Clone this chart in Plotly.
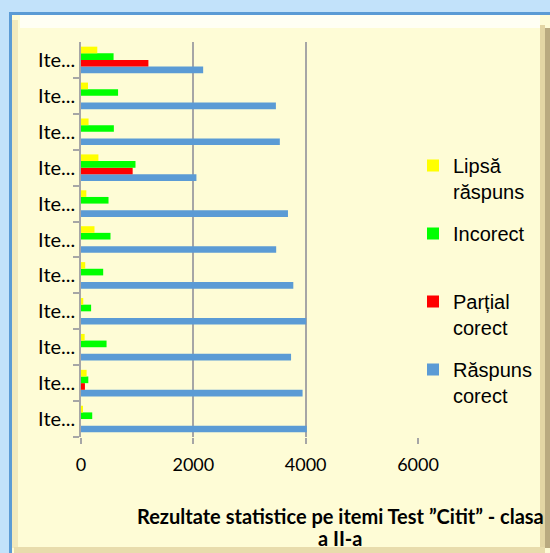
import plotly.graph_objects as go

# Data (top-to-bottom order as displayed)
items = ["Item 1", "Item 2", "Item 3", "Item 4", "Item 5", "Item 6",
         "Item 7", "Item 8", "Item 9", "Item 10", "Item 11"]
item_labels = ["Ite..."] * len(items)
lipsa_raspuns = [290, 125, 135, 310, 95, 240, 75, 40, 65, 100, 30]
incorect = [580, 660, 585, 970, 490, 525, 395, 180, 455, 130, 200]
partial_corect = [1200, 0, 0, 920, 0, 0, 0, 0, 0, 70, 0]
raspuns_corect = [2175, 3470, 3540, 2055, 3685, 3475, 3780, 4010, 3740, 3945, 4020]

series_names = ["Răspuns<br>corect", "Parțial<br>corect", "Incorect<br> ", "Lipsă<br>răspuns"]
series_values = [raspuns_corect, partial_corect, incorect, lipsa_raspuns]
series_colors = ["#5b9bd5", "#ff0000", "#00ff00", "#ffff00"]
legend_ranks = [4, 3, 2, 1]

title_lines = ["Rezultate statistice pe itemi Test ”Citit” - clasa", "a II-a"]

W, H = 550, 553

fig = go.Figure()
for i, (name, vals, col, rk) in enumerate(zip(series_names, series_values, series_colors, legend_ranks)):
    fig.add_trace(go.Bar(
        y=items, x=vals, name=name, orientation="h",
        marker=dict(color=col, line=dict(width=0)),
        legendgroup=f"g{i}",
        legendrank=rk,
    ))

def px_x(v):
    return v / W

def px_y(v):
    return 1 - v / H

shapes = [
    # blue frame
    dict(type="rect", xref="paper", yref="paper", x0=px_x(9), x1=px_x(560), y0=px_y(560), y1=px_y(12),
         fillcolor="#5b9bd5", line=dict(width=0), layer="below"),
    # cream panel
    dict(type="rect", xref="paper", yref="paper", x0=px_x(12), x1=px_x(550), y0=px_y(553), y1=px_y(15),
         fillcolor="#fefcd6", line=dict(width=0), layer="below"),
    # top light bevel
    dict(type="rect", xref="paper", yref="paper", x0=px_x(20), x1=px_x(540), y0=px_y(28), y1=px_y(15),
         fillcolor="#fffff4", line=dict(width=0), layer="below"),
    # left bevel
    dict(type="rect", xref="paper", yref="paper", x0=px_x(12), x1=px_x(18), y0=px_y(548), y1=px_y(20),
         fillcolor="#f1e9bd", line=dict(width=0), layer="below"),
    # right bevel
    dict(type="rect", xref="paper", yref="paper", x0=px_x(540), x1=px_x(545), y0=px_y(548), y1=px_y(25),
         fillcolor="#e3d6a4", line=dict(width=0), layer="below"),
    dict(type="rect", xref="paper", yref="paper", x0=px_x(545), x1=px_x(550), y0=px_y(548), y1=px_y(28),
         fillcolor="#b9aa80", line=dict(width=0), layer="below"),
    # bottom bevel
    dict(type="rect", xref="paper", yref="paper", x0=px_x(14), x1=px_x(545), y0=px_y(553), y1=px_y(547),
         fillcolor="#e8dcac", line=dict(width=0), layer="below"),
]

title_font = dict(family="Lato", size=20, color="#000000", weight="bold")

fig.update_layout(
    width=W, height=H,
    margin=dict(l=0, r=0, t=0, b=0, autoexpand=False),
    paper_bgcolor="#c2e2fa",
    plot_bgcolor="#ffffff",
    barmode="group",
    bargap=0.26,
    bargroupgap=0,
    shapes=shapes,
    font=dict(family="Lato", color="#000000"),
    showlegend=True,
    legend=dict(
        traceorder="grouped",
        x=px_x(413), y=px_y(146), xanchor="left", yanchor="top",
        font=dict(family="Liberation Sans", size=20, color="#000000"),
        bgcolor="rgba(0,0,0,0)",
        valign="top",
        itemwidth=30,
        tracegroupgap=13,
    ),
    xaxis=dict(
        domain=[px_x(81), px_x(418)],
        range=[0, 6000], dtick=2000, tick0=0,
        showgrid=True, gridcolor="#a6a6a6", gridwidth=1.5,
        zeroline=False, showline=False,
        ticks="outside", ticklen=6, tickcolor="#a6a6a6", tickwidth=1.5,
        tickfont=dict(family="Lato", size=18, color="#000000"),
        ticklabelstandoff=5,
        automargin=False,
        fixedrange=True,
    ),
    yaxis=dict(
        domain=[px_y(437), px_y(42)],
        categoryorder="array", categoryarray=items[::-1],
        tickmode="array", tickvals=items, ticktext=item_labels,
        tickson="boundaries",
        showgrid=False, zeroline=False,
        showline=True, linecolor="#a6a6a6", linewidth=1.5,
        ticks="outside", ticklen=6, tickcolor="#a6a6a6", tickwidth=1.5,
        tickfont=dict(family="Lato", size=20, color="#000000"),
        automargin=False,
        fixedrange=True,
    ),
    annotations=[
        dict(text=title_lines[0], xref="paper", yref="paper",
             x=px_x(340), y=px_y(516), xanchor="center", yanchor="middle",
             showarrow=False, font=title_font),
        dict(text=title_lines[1], xref="paper", yref="paper",
             x=px_x(340), y=px_y(538), xanchor="center", yanchor="middle",
             showarrow=False, font=title_font),
    ],
)

fig.write_html(
    "out.html",
    config={"displayModeBar": False},
    post_script="document.body.style.margin='0';document.body.style.overflow='hidden';",
)
